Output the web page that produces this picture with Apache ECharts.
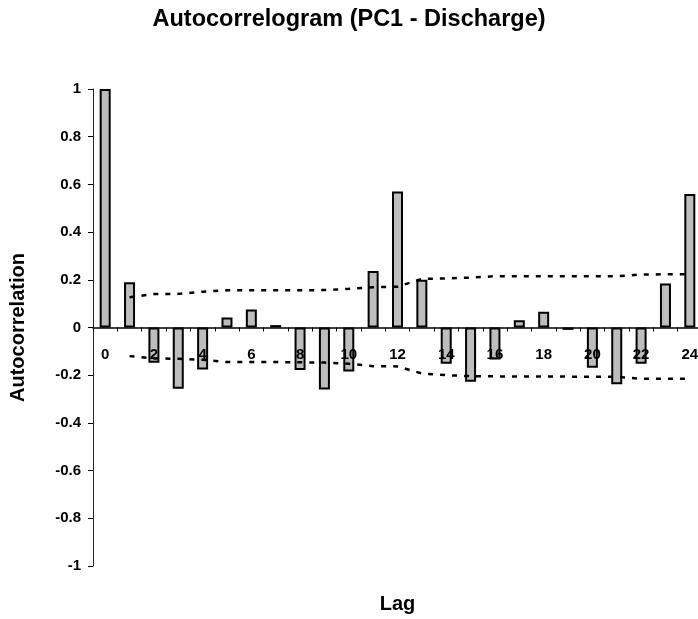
<!DOCTYPE html>
<html>
<head>
<meta charset="utf-8">
<script src="https://cdn.jsdelivr.net/npm/echarts@6/dist/echarts.min.js"></script>
<style>
  html, body { margin: 0; padding: 0; background: #fff; }
  #chart { width: 698px; height: 619px; }
</style>
</head>
<body>
<div id="chart"></div>
<script>
// lags 0..24
var lags = [];
for (var i = 0; i <= 24; i++) lags.push(String(i));

// autocorrelation
var acf = [1.0, 0.19, -0.148, -0.257, -0.176, 0.042, 0.075, 0.01, -0.178, -0.26, -0.185, 0.237, 0.57,
  0.20, -0.152, -0.227, -0.134, 0.03, 0.066, -0.01, -0.169, -0.238, -0.152, 0.184, 0.56];

// confidence limits (dotted)
var upper = [null, 0.127, 0.14, 0.141, 0.15, 0.156, 0.156, 0.156, 0.156, 0.157, 0.162, 0.169, 0.171,
  0.204, 0.206, 0.209, 0.215, 0.215, 0.215, 0.215, 0.215, 0.215, 0.222, 0.223, 0.223];
var lower = [null, -0.12, -0.13, -0.131, -0.135, -0.145, -0.145, -0.145, -0.146, -0.147, -0.152, -0.162, -0.163,
  -0.193, -0.2, -0.204, -0.205, -0.205, -0.205, -0.206, -0.206, -0.207, -0.215, -0.215, -0.215];

var chart = echarts.init(document.getElementById('chart'));
var font = 'Liberation Sans, Arial, sans-serif';

var gridTop = 89, gridH = 477;

var dotted = {
  color: '#000',
  width: 2.5,
  type: [5, 7]
};

var option = {
  backgroundColor: '#fff',
  animation: false,
  title: {
    text: 'Autocorrelogram (PC1 - Discharge)',
    left: 'center',
    top: 3,
    textStyle: { fontFamily: font, fontSize: 23.5, fontWeight: 'bold', color: '#000' }
  },
  grid: {
    left: 93,
    top: gridTop,
    width: 609,
    height: gridH,
    outerBoundsMode: 'none'
  },
  xAxis: {
    type: 'category',
    data: lags,
    z: 10,
    // category axis sits on the zero line (half the grid height up)
    offset: -gridH / 2,
    name: 'Lag',
    nameLocation: 'middle',
    nameGap: 267,
    nameTextStyle: { fontFamily: font, fontSize: 20, fontWeight: 'bold', color: '#000' },
    axisLine: { onZero: false, lineStyle: { color: '#000', width: 1.5 } },
    axisTick: { show: true, interval: 0, length: 4, lineStyle: { color: '#000' } },
    axisLabel: {
      interval: 1,
      margin: 20,
      fontFamily: font,
      fontSize: 15,
      fontWeight: 'bold',
      color: '#000'
    },
    splitLine: { show: false }
  },
  yAxis: {
    type: 'value',
    min: -1,
    max: 1,
    interval: 0.2,
    name: 'Autocorrelation',
    nameLocation: 'middle',
    nameGap: 65,
    nameTextStyle: { fontFamily: font, fontSize: 20, fontWeight: 'bold', color: '#000' },
    axisLine: { show: true, lineStyle: { color: '#222', width: 1 } },
    axisTick: { show: true, length: 5, lineStyle: { color: '#000' } },
    axisLabel: {
      margin: 12,
      fontFamily: font,
      fontSize: 15,
      fontWeight: 'bold',
      color: '#000'
    },
    splitLine: { show: false }
  },
  series: [
    {
      name: 'ACF',
      type: 'bar',
      data: acf,
      barWidth: 11,
      z: 2,
      itemStyle: {
        color: '#bdbdbd',
        borderColor: '#000',
        borderWidth: 2
      }
    },
    {
      name: 'upper',
      type: 'line',
      data: upper,
      symbol: 'none',
      z: 3,
      lineStyle: dotted
    },
    {
      name: 'lower',
      type: 'line',
      data: lower,
      symbol: 'none',
      z: 3,
      lineStyle: dotted
    }
  ]
};

option && chart.setOption(option);
</script>
</body>
</html>
